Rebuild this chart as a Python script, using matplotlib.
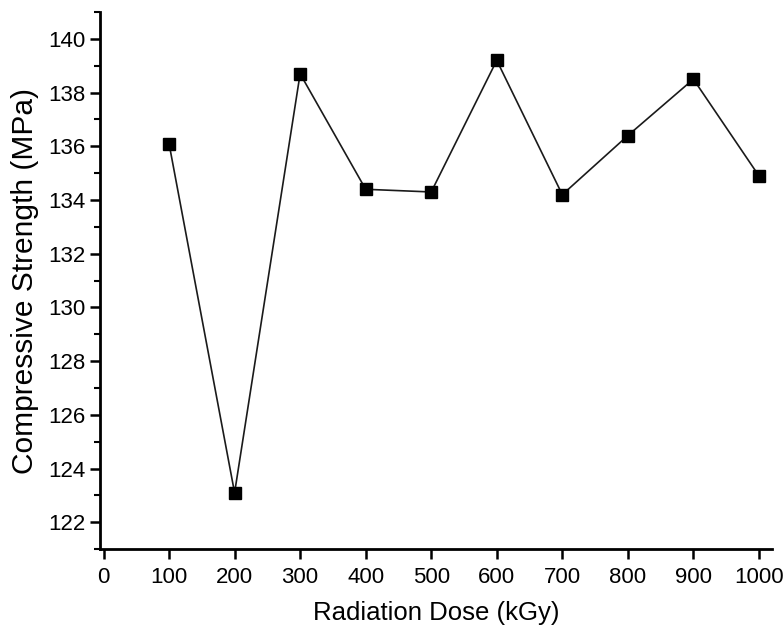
import numpy as np
import matplotlib.pyplot as plt
from matplotlib.ticker import MultipleLocator

plt.rcParams['font.family'] = ['Liberation Sans', 'DejaVu Sans']

# Прочность при сжатии в зависимости от дозы облучения
dose = [100, 200, 300, 400, 500, 600, 700, 800, 900, 1000]
strength = [136.1, 123.1, 138.7, 134.4, 134.3, 139.2, 134.2, 136.4, 138.5, 134.9]

fig = plt.figure(figsize=(7.83, 6.32), dpi=100)
ax = fig.add_axes([0.128, 0.131, 0.858, 0.850])

ax.plot(dose, strength, color='#1a1a1a', linewidth=1.2, marker='s',
        markersize=9, markerfacecolor='black', markeredgecolor='black')

ax.set_xlim(-5, 1020)
ax.set_ylim(121, 141)
ax.xaxis.set_major_locator(MultipleLocator(100))
ax.yaxis.set_major_locator(MultipleLocator(2))
ax.yaxis.set_minor_locator(MultipleLocator(1))

for s in ['top', 'right']:
    ax.spines[s].set_visible(False)
for s in ['left', 'bottom']:
    ax.spines[s].set_linewidth(2)

ax.tick_params(axis='both', which='major', direction='out', length=7, width=1.8, labelsize=16)
ax.tick_params(axis='x', which='major', pad=6)
ax.tick_params(axis='y', which='minor', direction='out', length=4, width=1.5)

ax.set_xlabel('Radiation Dose (kGy)', fontsize=18.5, labelpad=9)
ax.set_ylabel('Compressive Strength (MPa)', fontsize=21.5, labelpad=7)

fig.savefig('out.png', dpi=100)
